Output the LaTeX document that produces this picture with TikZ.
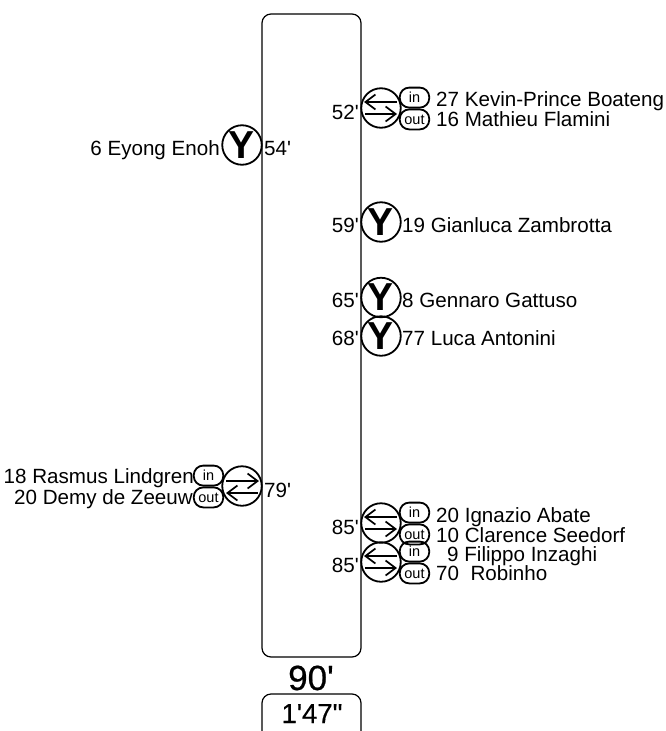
\documentclass[tikz,border=0pt]{standalone}
\usepackage{fontspec}
\setmainfont{Liberation Sans}[Ligatures=TeXOff]
\usetikzlibrary{arrows.meta}
\tikzset{
  ring/.style={draw=black,line width=1.8pt,circle,minimum size=39.5pt,inner sep=0pt},
  pill/.style={draw=black,line width=1.8pt,rounded corners=9.5pt,minimum width=29.5pt,minimum height=20pt,inner sep=0pt,font=\fontsize{14.5}{15}\selectfont},
  lbl/.style={inner sep=0pt,font=\fontsize{20.6}{21}\selectfont},
  rlbl/.style={lbl,anchor=base west},
  llbl/.style={lbl,anchor=base east},
  swaparrow/.style={line width=1.7pt,-{Straight Barb[length=10pt,width=15pt,line width=1.7pt]}},
  bar/.style={draw=black,line width=1.2pt,rounded corners=9pt}
}
\newcommand{\subR}[3]{%
  \node[ring] (#1c) at (#2,#3) {};
  \node[pill,anchor=south] (#1in) at (#2+33.5,#3+0.5) {in};
  \node[pill,anchor=north] (#1out) at (#2+33.5,#3+0.5) {out};
  \coordinate (#1a) at (#2+16,#3-6);
  \coordinate (#1b) at (#2-17,#3-6);
  \coordinate (#1d) at (#2-16,#3+6);
  \coordinate (#1e) at (#2+16,#3+6);
  \draw[swaparrow] (#1a) -- (#1b);
  \draw[swaparrow] (#1d) -- (#1e);
}
\newcommand{\subL}[3]{%
  \node[ring] (#1c) at (#2,#3) {};
  \node[pill,anchor=south] (#1in) at (#2-33.5,#3+0.5) {in};
  \node[pill,anchor=north] (#1out) at (#2-33.5,#3+0.5) {out};
  \coordinate (#1a) at (#2-16,#3-5);
  \coordinate (#1b) at (#2+17,#3-5);
  \coordinate (#1d) at (#2+16,#3+7);
  \coordinate (#1e) at (#2-16,#3+7);
  \draw[swaparrow] (#1a) -- (#1b);
  \draw[swaparrow] (#1d) -- (#1e);
}
\newcommand{\ycard}[3]{%
  \node[ring,font=\fontsize{39}{40}\selectfont\bfseries] (#1) at (#2,#3) {Y};
}
\begin{document}
\begin{tikzpicture}[x=1pt,y=-1pt]
\useasboundingbox (0,0) rectangle (665,731);
\draw[bar] (262,14) rectangle (361,657);
\begin{scope}
\clip (0,0) rectangle (665,731);
\draw[bar] (262,745) -- (262,694) -- (361,694) -- (361,745);
\end{scope}
\node[inner sep=0pt,anchor=base,font=\fontsize{35}{36}\selectfont\addfontfeature{FakeBold=0.6}] (total) at (311,690) {90'};
\node[inner sep=0pt,anchor=base,font=\fontsize{27.5}{28}\selectfont\addfontfeature{FakeBold=0.4}] (added) at (312,723) {1'47"};

\subR{a}{381}{108}
\node[llbl] (m1) at (359,119.5) {52'};
\node[rlbl] (p1) at (436,106) {27 Kevin-Prince Boateng};
\node[rlbl] (p2) at (436,126) {16 Mathieu Flamini};

\ycard{y1}{242}{145}
\node[llbl] (p3) at (220,155) {6 Eyong Enoh};
\node[rlbl] (m2) at (264,155.5) {54'};

\ycard{y2}{381}{222}
\node[llbl] (m3) at (359,232.5) {59'};
\node[rlbl] (p4) at (402,232.5) {19 Gianluca Zambrotta};

\ycard{y3}{381}{297.5}
\node[llbl] (m4) at (359,307.5) {65'};
\node[rlbl] (p5) at (402,307.5) {8 Gennaro Gattuso};

\ycard{y4}{381}{336}
\node[llbl] (m5) at (359,345) {68'};
\node[rlbl] (p6) at (402,345) {77 Luca Antonini};

\subL{b}{242}{486}
\node[rlbl] (m6) at (264,497.5) {79'};
\node[llbl] (p7) at (194,483.5) {18 Rasmus Lindgren};
\node[llbl] (p8) at (193,504) {20 Demy de Zeeuw};

\subR{c}{381}{523}
\node[llbl] (m7) at (359,534) {85'};
\node[rlbl] (p9) at (436,522) {20 Ignazio Abate};
\node[rlbl] (p10) at (436,542) {10 Clarence Seedorf};

\subR{d}{381}{562}
\node[llbl] (m8) at (359,572) {85'};
\node[rlbl] (p11) at (447,561) {9 Filippo Inzaghi};
\node[rlbl] (p12) at (436,580) {70\ \ Robinho};
\end{tikzpicture}
\end{document}
